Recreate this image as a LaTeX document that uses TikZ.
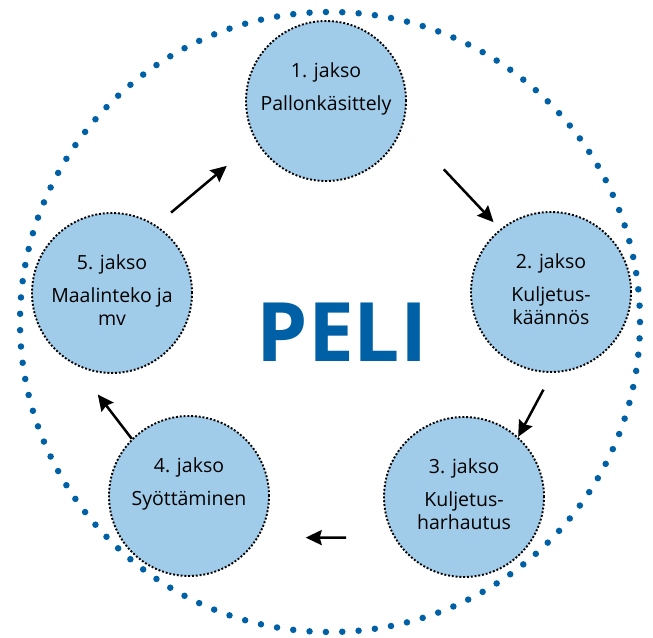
\documentclass[tikz,border=0pt]{standalone}
\usepackage{fontspec}
\setmainfont{Open Sans}
\usetikzlibrary{arrows.meta}
\definecolor{peliblue}{RGB}{0,96,166}
\definecolor{jaksofill}{RGB}{160,204,234}
\tikzset{
    outer-ring/.style = {draw=peliblue, line width=6.5pt, line cap=round, dash pattern=on 0pt off 16.37pt},
    jakso-circle/.style = {circle, fill=jaksofill, draw=black, line width=1.9pt, dash pattern=on 1.9pt off 1.9pt, minimum size=160pt, inner sep=0pt},
    jakso-text/.style = {anchor=north, align=center, inner sep=0pt, font=\fontsize{19.5}{23.4}\selectfont},
    peli-title/.style = {text=peliblue, font=\fontsize{82}{90}\selectfont\bfseries},
    cycle-arrow/.style = {-{Stealth[length=16pt, width=15pt, inset=2pt]}, line width=2.5pt},
}
\begin{document}
\begin{tikzpicture}[x=1pt, y=1pt]
\useasboundingbox (0,0) rectangle (653,637);
\draw[outer-ring] (330,315) circle (310pt);

\node[jakso-circle] (c1) at (326,536) {};
\node[jakso-circle] (c2) at (551,345) {};
\node[jakso-circle] (c3) at (464,140) {};
\node[jakso-circle] (c4) at (189,141) {};
\node[jakso-circle] (c5) at (112,344) {};

\node[jakso-text] (t1) at ([yshift=39pt]c1.center) {1. jakso\\[10pt]Pallonkäsittely};
\node[jakso-text] (t2) at ([yshift=39pt]c2.center) {2. jakso\\[10pt]Kuljetus-\\käännös};
\node[jakso-text] (t3) at ([yshift=39pt]c3.center) {3. jakso\\[10pt]Kuljetus-\\harhautus};
\node[jakso-text] (t4) at ([yshift=39pt]c4.center) {4. jakso\\[10pt]Syöttäminen};
\node[jakso-text] (t5) at ([yshift=39pt]c5.center) {5. jakso\\[10pt]Maalinteko ja\\mv};

\node[peli-title] (peli) at (342,305) {PELI};

\draw[cycle-arrow, shorten <=59.5pt, shorten >=9.5pt] (c1.-18) -- (c2.129);
\draw[cycle-arrow, shorten <=19pt] (c2.-89) -- (c3.48);
\draw[cycle-arrow, shorten <=47.7pt, shorten >=47.3pt] (c3.-150) -- (c4.-31);
\draw[cycle-arrow, shorten >=37pt] (c4.135) -- (c5.-117);
\draw[cycle-arrow, shorten <=19.5pt, shorten >=38pt] (c5.57) -- (c1.-150);
\end{tikzpicture}
\end{document}
